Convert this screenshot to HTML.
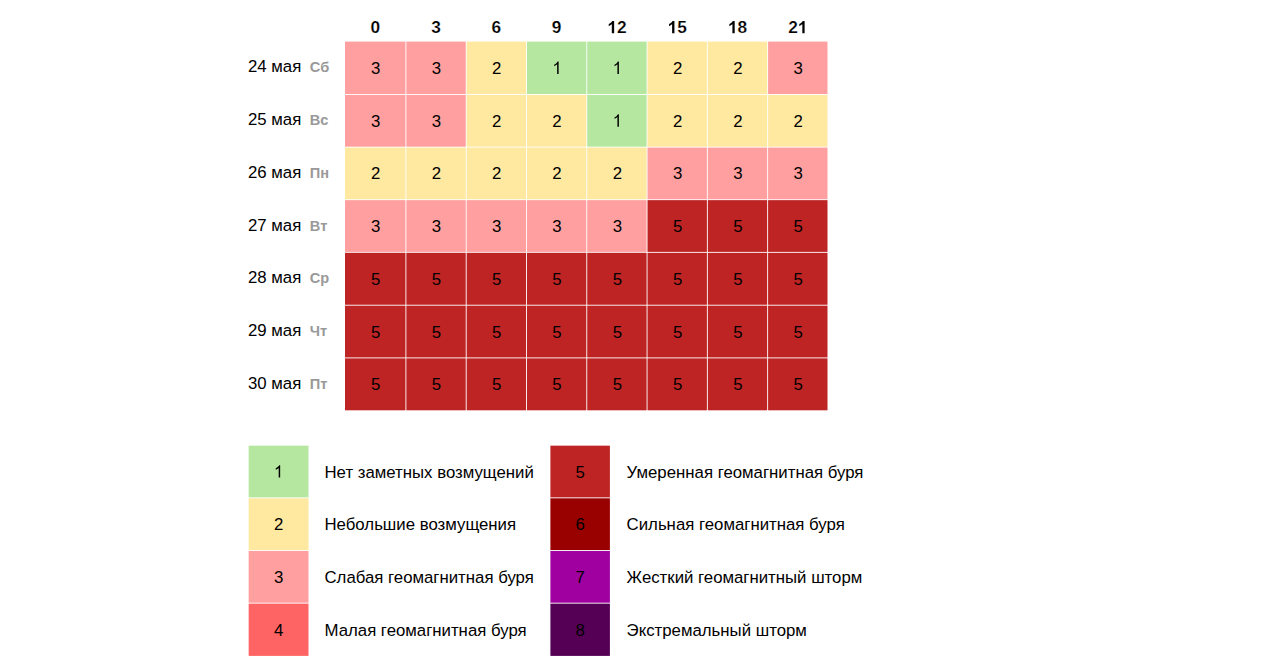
<!DOCTYPE html>
<html><head><meta charset="utf-8"><style>
html,body{margin:0;padding:0;background:#fff;width:1280px;height:670px;overflow:hidden}
svg{display:block;font-family:"Liberation Sans",sans-serif}
</style></head><body>
<svg width="1280" height="670" viewBox="0 0 1280 670">
<rect x="0" y="0" width="1280" height="670" fill="#fff"/>
<text x="0" y="0" transform="translate(370.414,33.300) scale(1,1.0)" font-size="17.3" font-weight="bold" fill="#000" stroke="#fff" stroke-width="0.2">0</text>
<text x="0" y="0" transform="translate(431.234,33.300) scale(1,1.0)" font-size="17.3" font-weight="bold" fill="#000" stroke="#fff" stroke-width="0.2">3</text>
<text x="0" y="0" transform="translate(491.524,33.300) scale(1,1.0)" font-size="17.3" font-weight="bold" fill="#000" stroke="#fff" stroke-width="0.2">6</text>
<text x="0" y="0" transform="translate(551.814,33.300) scale(1,1.0)" font-size="17.3" font-weight="bold" fill="#000" stroke="#fff" stroke-width="0.2">9</text>
<path d="M813,0L532,0L532,1059Q378,915 169,846L169,1101Q279,1137 407,1236Q529,1334 574,1466L813,1466Z" transform="translate(607.294,33.300) scale(0.008447,-0.008447)" fill="#000" stroke="#fff" stroke-width="12"/><text x="0" y="0" transform="translate(616.915,33.300) scale(1,1.0)" font-size="17.3" font-weight="bold" fill="#000" stroke="#fff" stroke-width="0.2">2</text>
<path d="M813,0L532,0L532,1059Q378,915 169,846L169,1101Q279,1137 407,1236Q529,1334 574,1466L813,1466Z" transform="translate(667.584,33.300) scale(0.008447,-0.008447)" fill="#000" stroke="#fff" stroke-width="12"/><text x="0" y="0" transform="translate(677.205,33.300) scale(1,1.0)" font-size="17.3" font-weight="bold" fill="#000" stroke="#fff" stroke-width="0.2">5</text>
<path d="M813,0L532,0L532,1059Q378,915 169,846L169,1101Q279,1137 407,1236Q529,1334 574,1466L813,1466Z" transform="translate(727.874,33.300) scale(0.008447,-0.008447)" fill="#000" stroke="#fff" stroke-width="12"/><text x="0" y="0" transform="translate(737.495,33.300) scale(1,1.0)" font-size="17.3" font-weight="bold" fill="#000" stroke="#fff" stroke-width="0.2">8</text>
<text x="0" y="0" transform="translate(788.174,33.300) scale(1,1.0)" font-size="17.3" font-weight="bold" fill="#000" stroke="#fff" stroke-width="0.2">2</text><path d="M813,0L532,0L532,1059Q378,915 169,846L169,1101Q279,1137 407,1236Q529,1334 574,1466L813,1466Z" transform="translate(797.795,33.300) scale(0.008447,-0.008447)" fill="#000" stroke="#fff" stroke-width="12"/>
<rect x="345.000" y="41.600" width="60.450" height="52.400" fill="#ff9f9f"/>
<rect x="406.350" y="41.600" width="59.390" height="52.400" fill="#ff9f9f"/>
<rect x="466.640" y="41.600" width="59.390" height="52.400" fill="#ffe8a0"/>
<rect x="526.930" y="41.600" width="59.390" height="52.400" fill="#b6e7a0"/>
<rect x="587.220" y="41.600" width="59.390" height="52.400" fill="#b6e7a0"/>
<rect x="647.510" y="41.600" width="59.390" height="52.400" fill="#ffe8a0"/>
<rect x="707.800" y="41.600" width="59.390" height="52.400" fill="#ffe8a0"/>
<rect x="768.090" y="41.600" width="59.410" height="52.400" fill="#ff9f9f"/>
<rect x="345.000" y="94.900" width="60.450" height="51.750" fill="#ff9f9f"/>
<rect x="406.350" y="94.900" width="59.390" height="51.750" fill="#ff9f9f"/>
<rect x="466.640" y="94.900" width="59.390" height="51.750" fill="#ffe8a0"/>
<rect x="526.930" y="94.900" width="59.390" height="51.750" fill="#ffe8a0"/>
<rect x="587.220" y="94.900" width="59.390" height="51.750" fill="#b6e7a0"/>
<rect x="647.510" y="94.900" width="59.390" height="51.750" fill="#ffe8a0"/>
<rect x="707.800" y="94.900" width="59.390" height="51.750" fill="#ffe8a0"/>
<rect x="768.090" y="94.900" width="59.410" height="51.750" fill="#ffe8a0"/>
<rect x="345.000" y="147.550" width="60.450" height="51.700" fill="#ffe8a0"/>
<rect x="406.350" y="147.550" width="59.390" height="51.700" fill="#ffe8a0"/>
<rect x="466.640" y="147.550" width="59.390" height="51.700" fill="#ffe8a0"/>
<rect x="526.930" y="147.550" width="59.390" height="51.700" fill="#ffe8a0"/>
<rect x="587.220" y="147.550" width="59.390" height="51.700" fill="#ffe8a0"/>
<rect x="647.510" y="147.550" width="59.390" height="51.700" fill="#ff9f9f"/>
<rect x="707.800" y="147.550" width="59.390" height="51.700" fill="#ff9f9f"/>
<rect x="768.090" y="147.550" width="59.410" height="51.700" fill="#ff9f9f"/>
<rect x="345.000" y="200.150" width="60.450" height="51.750" fill="#ff9f9f"/>
<rect x="406.350" y="200.150" width="59.390" height="51.750" fill="#ff9f9f"/>
<rect x="466.640" y="200.150" width="59.390" height="51.750" fill="#ff9f9f"/>
<rect x="526.930" y="200.150" width="59.390" height="51.750" fill="#ff9f9f"/>
<rect x="587.220" y="200.150" width="59.390" height="51.750" fill="#ff9f9f"/>
<rect x="647.510" y="200.150" width="59.390" height="51.750" fill="#be2424"/>
<rect x="707.800" y="200.150" width="59.390" height="51.750" fill="#be2424"/>
<rect x="768.090" y="200.150" width="59.410" height="51.750" fill="#be2424"/>
<rect x="345.000" y="252.800" width="60.450" height="51.950" fill="#be2424"/>
<rect x="406.350" y="252.800" width="59.390" height="51.950" fill="#be2424"/>
<rect x="466.640" y="252.800" width="59.390" height="51.950" fill="#be2424"/>
<rect x="526.930" y="252.800" width="59.390" height="51.950" fill="#be2424"/>
<rect x="587.220" y="252.800" width="59.390" height="51.950" fill="#be2424"/>
<rect x="647.510" y="252.800" width="59.390" height="51.950" fill="#be2424"/>
<rect x="707.800" y="252.800" width="59.390" height="51.950" fill="#be2424"/>
<rect x="768.090" y="252.800" width="59.410" height="51.950" fill="#be2424"/>
<rect x="345.000" y="305.650" width="60.450" height="51.800" fill="#be2424"/>
<rect x="406.350" y="305.650" width="59.390" height="51.800" fill="#be2424"/>
<rect x="466.640" y="305.650" width="59.390" height="51.800" fill="#be2424"/>
<rect x="526.930" y="305.650" width="59.390" height="51.800" fill="#be2424"/>
<rect x="587.220" y="305.650" width="59.390" height="51.800" fill="#be2424"/>
<rect x="647.510" y="305.650" width="59.390" height="51.800" fill="#be2424"/>
<rect x="707.800" y="305.650" width="59.390" height="51.800" fill="#be2424"/>
<rect x="768.090" y="305.650" width="59.410" height="51.800" fill="#be2424"/>
<rect x="345.000" y="358.350" width="60.450" height="51.950" fill="#be2424"/>
<rect x="406.350" y="358.350" width="59.390" height="51.950" fill="#be2424"/>
<rect x="466.640" y="358.350" width="59.390" height="51.950" fill="#be2424"/>
<rect x="526.930" y="358.350" width="59.390" height="51.950" fill="#be2424"/>
<rect x="587.220" y="358.350" width="59.390" height="51.950" fill="#be2424"/>
<rect x="647.510" y="358.350" width="59.390" height="51.950" fill="#be2424"/>
<rect x="707.800" y="358.350" width="59.390" height="51.950" fill="#be2424"/>
<rect x="768.090" y="358.350" width="59.410" height="51.950" fill="#be2424"/>
<text x="0" y="0" transform="translate(370.953,74.000) scale(1,1.03)" font-size="16.8" font-weight="normal" fill="#000">3</text>
<text x="0" y="0" transform="translate(431.773,74.000) scale(1,1.03)" font-size="16.8" font-weight="normal" fill="#000">3</text>
<text x="0" y="0" transform="translate(492.063,74.000) scale(1,1.03)" font-size="16.8" font-weight="normal" fill="#000">2</text>
<path d="M763,0L583,0L583,1147Q518,1085 415,1024Q312,964 223,931L223,1105Q385,1181 493,1277Q602,1374 647,1466L763,1466Z" transform="translate(552.353,74.000) scale(0.008203,-0.008449)" fill="#000"/>
<path d="M763,0L583,0L583,1147Q518,1085 415,1024Q312,964 223,931L223,1105Q385,1181 493,1277Q602,1374 647,1466L763,1466Z" transform="translate(612.643,74.000) scale(0.008203,-0.008449)" fill="#000"/>
<text x="0" y="0" transform="translate(672.933,74.000) scale(1,1.03)" font-size="16.8" font-weight="normal" fill="#000">2</text>
<text x="0" y="0" transform="translate(733.223,74.000) scale(1,1.03)" font-size="16.8" font-weight="normal" fill="#000">2</text>
<text x="0" y="0" transform="translate(793.523,74.000) scale(1,1.03)" font-size="16.8" font-weight="normal" fill="#000">3</text>
<text x="248.0" y="72.400" font-size="16.8" fill="#000">24 мая</text>
<text x="309.8" y="72.400" font-size="14.6" font-weight="bold" fill="#999">Сб</text>
<text x="0" y="0" transform="translate(370.953,126.730) scale(1,1.03)" font-size="16.8" font-weight="normal" fill="#000">3</text>
<text x="0" y="0" transform="translate(431.773,126.730) scale(1,1.03)" font-size="16.8" font-weight="normal" fill="#000">3</text>
<text x="0" y="0" transform="translate(492.063,126.730) scale(1,1.03)" font-size="16.8" font-weight="normal" fill="#000">2</text>
<text x="0" y="0" transform="translate(552.353,126.730) scale(1,1.03)" font-size="16.8" font-weight="normal" fill="#000">2</text>
<path d="M763,0L583,0L583,1147Q518,1085 415,1024Q312,964 223,931L223,1105Q385,1181 493,1277Q602,1374 647,1466L763,1466Z" transform="translate(612.643,126.730) scale(0.008203,-0.008449)" fill="#000"/>
<text x="0" y="0" transform="translate(672.933,126.730) scale(1,1.03)" font-size="16.8" font-weight="normal" fill="#000">2</text>
<text x="0" y="0" transform="translate(733.223,126.730) scale(1,1.03)" font-size="16.8" font-weight="normal" fill="#000">2</text>
<text x="0" y="0" transform="translate(793.523,126.730) scale(1,1.03)" font-size="16.8" font-weight="normal" fill="#000">2</text>
<text x="248.0" y="125.150" font-size="16.8" fill="#000">25 мая</text>
<text x="309.8" y="125.150" font-size="14.6" font-weight="bold" fill="#999">Вс</text>
<text x="0" y="0" transform="translate(370.953,179.460) scale(1,1.03)" font-size="16.8" font-weight="normal" fill="#000">2</text>
<text x="0" y="0" transform="translate(431.773,179.460) scale(1,1.03)" font-size="16.8" font-weight="normal" fill="#000">2</text>
<text x="0" y="0" transform="translate(492.063,179.460) scale(1,1.03)" font-size="16.8" font-weight="normal" fill="#000">2</text>
<text x="0" y="0" transform="translate(552.353,179.460) scale(1,1.03)" font-size="16.8" font-weight="normal" fill="#000">2</text>
<text x="0" y="0" transform="translate(612.643,179.460) scale(1,1.03)" font-size="16.8" font-weight="normal" fill="#000">2</text>
<text x="0" y="0" transform="translate(672.933,179.460) scale(1,1.03)" font-size="16.8" font-weight="normal" fill="#000">3</text>
<text x="0" y="0" transform="translate(733.223,179.460) scale(1,1.03)" font-size="16.8" font-weight="normal" fill="#000">3</text>
<text x="0" y="0" transform="translate(793.523,179.460) scale(1,1.03)" font-size="16.8" font-weight="normal" fill="#000">3</text>
<text x="248.0" y="177.900" font-size="16.8" fill="#000">26 мая</text>
<text x="309.8" y="177.900" font-size="14.6" font-weight="bold" fill="#999">Пн</text>
<text x="0" y="0" transform="translate(370.953,232.190) scale(1,1.03)" font-size="16.8" font-weight="normal" fill="#000">3</text>
<text x="0" y="0" transform="translate(431.773,232.190) scale(1,1.03)" font-size="16.8" font-weight="normal" fill="#000">3</text>
<text x="0" y="0" transform="translate(492.063,232.190) scale(1,1.03)" font-size="16.8" font-weight="normal" fill="#000">3</text>
<text x="0" y="0" transform="translate(552.353,232.190) scale(1,1.03)" font-size="16.8" font-weight="normal" fill="#000">3</text>
<text x="0" y="0" transform="translate(612.643,232.190) scale(1,1.03)" font-size="16.8" font-weight="normal" fill="#000">3</text>
<text x="0" y="0" transform="translate(672.933,232.190) scale(1,1.03)" font-size="16.8" font-weight="normal" fill="#000">5</text>
<text x="0" y="0" transform="translate(733.223,232.190) scale(1,1.03)" font-size="16.8" font-weight="normal" fill="#000">5</text>
<text x="0" y="0" transform="translate(793.523,232.190) scale(1,1.03)" font-size="16.8" font-weight="normal" fill="#000">5</text>
<text x="248.0" y="230.650" font-size="16.8" fill="#000">27 мая</text>
<text x="309.8" y="230.650" font-size="14.6" font-weight="bold" fill="#999">Вт</text>
<text x="0" y="0" transform="translate(370.953,284.920) scale(1,1.03)" font-size="16.8" font-weight="normal" fill="#000">5</text>
<text x="0" y="0" transform="translate(431.773,284.920) scale(1,1.03)" font-size="16.8" font-weight="normal" fill="#000">5</text>
<text x="0" y="0" transform="translate(492.063,284.920) scale(1,1.03)" font-size="16.8" font-weight="normal" fill="#000">5</text>
<text x="0" y="0" transform="translate(552.353,284.920) scale(1,1.03)" font-size="16.8" font-weight="normal" fill="#000">5</text>
<text x="0" y="0" transform="translate(612.643,284.920) scale(1,1.03)" font-size="16.8" font-weight="normal" fill="#000">5</text>
<text x="0" y="0" transform="translate(672.933,284.920) scale(1,1.03)" font-size="16.8" font-weight="normal" fill="#000">5</text>
<text x="0" y="0" transform="translate(733.223,284.920) scale(1,1.03)" font-size="16.8" font-weight="normal" fill="#000">5</text>
<text x="0" y="0" transform="translate(793.523,284.920) scale(1,1.03)" font-size="16.8" font-weight="normal" fill="#000">5</text>
<text x="248.0" y="283.400" font-size="16.8" fill="#000">28 мая</text>
<text x="309.8" y="283.400" font-size="14.6" font-weight="bold" fill="#999">Ср</text>
<text x="0" y="0" transform="translate(370.953,337.650) scale(1,1.03)" font-size="16.8" font-weight="normal" fill="#000">5</text>
<text x="0" y="0" transform="translate(431.773,337.650) scale(1,1.03)" font-size="16.8" font-weight="normal" fill="#000">5</text>
<text x="0" y="0" transform="translate(492.063,337.650) scale(1,1.03)" font-size="16.8" font-weight="normal" fill="#000">5</text>
<text x="0" y="0" transform="translate(552.353,337.650) scale(1,1.03)" font-size="16.8" font-weight="normal" fill="#000">5</text>
<text x="0" y="0" transform="translate(612.643,337.650) scale(1,1.03)" font-size="16.8" font-weight="normal" fill="#000">5</text>
<text x="0" y="0" transform="translate(672.933,337.650) scale(1,1.03)" font-size="16.8" font-weight="normal" fill="#000">5</text>
<text x="0" y="0" transform="translate(733.223,337.650) scale(1,1.03)" font-size="16.8" font-weight="normal" fill="#000">5</text>
<text x="0" y="0" transform="translate(793.523,337.650) scale(1,1.03)" font-size="16.8" font-weight="normal" fill="#000">5</text>
<text x="248.0" y="336.150" font-size="16.8" fill="#000">29 мая</text>
<text x="309.8" y="336.150" font-size="14.6" font-weight="bold" fill="#999">Чт</text>
<text x="0" y="0" transform="translate(370.953,390.380) scale(1,1.03)" font-size="16.8" font-weight="normal" fill="#000">5</text>
<text x="0" y="0" transform="translate(431.773,390.380) scale(1,1.03)" font-size="16.8" font-weight="normal" fill="#000">5</text>
<text x="0" y="0" transform="translate(492.063,390.380) scale(1,1.03)" font-size="16.8" font-weight="normal" fill="#000">5</text>
<text x="0" y="0" transform="translate(552.353,390.380) scale(1,1.03)" font-size="16.8" font-weight="normal" fill="#000">5</text>
<text x="0" y="0" transform="translate(612.643,390.380) scale(1,1.03)" font-size="16.8" font-weight="normal" fill="#000">5</text>
<text x="0" y="0" transform="translate(672.933,390.380) scale(1,1.03)" font-size="16.8" font-weight="normal" fill="#000">5</text>
<text x="0" y="0" transform="translate(733.223,390.380) scale(1,1.03)" font-size="16.8" font-weight="normal" fill="#000">5</text>
<text x="0" y="0" transform="translate(793.523,390.380) scale(1,1.03)" font-size="16.8" font-weight="normal" fill="#000">5</text>
<text x="248.0" y="388.900" font-size="16.8" fill="#000">30 мая</text>
<text x="309.8" y="388.900" font-size="14.6" font-weight="bold" fill="#999">Пт</text>
<rect x="248.66" y="445.66" width="59.840" height="51.740" fill="#b6e7a0"/>
<path d="M763,0L583,0L583,1147Q518,1085 415,1024Q312,964 223,931L223,1105Q385,1181 493,1277Q602,1374 647,1466L763,1466Z" transform="translate(273.908,477.600) scale(0.008203,-0.008449)" fill="#000"/>
<text x="324.5" y="477.600" font-size="16.8" fill="#000">Нет заметных возмущений</text>
<rect x="248.66" y="498.3" width="59.840" height="51.750" fill="#ffe8a0"/>
<text x="0" y="0" transform="translate(273.908,530.270) scale(1,1.03)" font-size="16.8" font-weight="normal" fill="#000">2</text>
<text x="324.5" y="530.270" font-size="16.8" fill="#000">Небольшие возмущения</text>
<rect x="248.66" y="550.95" width="59.840" height="51.750" fill="#ff9f9f"/>
<text x="0" y="0" transform="translate(273.908,582.940) scale(1,1.03)" font-size="16.8" font-weight="normal" fill="#000">3</text>
<text x="324.5" y="582.940" font-size="16.8" fill="#000">Слабая геомагнитная буря</text>
<rect x="248.66" y="603.6" width="59.840" height="52.300" fill="#ff6464"/>
<text x="0" y="0" transform="translate(273.908,635.610) scale(1,1.03)" font-size="16.8" font-weight="normal" fill="#000">4</text>
<text x="324.5" y="635.610" font-size="16.8" fill="#000">Малая геомагнитная буря</text>
<rect x="550.4" y="445.66" width="59.500" height="51.740" fill="#be2424"/>
<text x="0" y="0" transform="translate(575.478,477.600) scale(1,1.03)" font-size="16.8" font-weight="normal" fill="#000">5</text>
<text x="626.6" y="477.600" font-size="16.8" fill="#000">Умеренная геомагнитная буря</text>
<rect x="550.4" y="498.3" width="59.500" height="51.750" fill="#990000"/>
<text x="0" y="0" transform="translate(575.478,530.270) scale(1,1.03)" font-size="16.8" font-weight="normal" fill="#000">6</text>
<text x="626.6" y="530.270" font-size="16.8" fill="#000">Сильная геомагнитная буря</text>
<rect x="550.4" y="550.95" width="59.500" height="51.750" fill="#a000a0"/>
<text x="0" y="0" transform="translate(575.478,582.940) scale(1,1.03)" font-size="16.8" font-weight="normal" fill="#000">7</text>
<text x="626.6" y="582.940" font-size="16.8" fill="#000">Жесткий геомагнитный шторм</text>
<rect x="550.4" y="603.6" width="59.500" height="52.300" fill="#550055"/>
<text x="0" y="0" transform="translate(575.478,635.610) scale(1,1.03)" font-size="16.8" font-weight="normal" fill="#000">8</text>
<text x="626.6" y="635.610" font-size="16.8" fill="#000">Экстремальный шторм</text>
</svg></body></html>
